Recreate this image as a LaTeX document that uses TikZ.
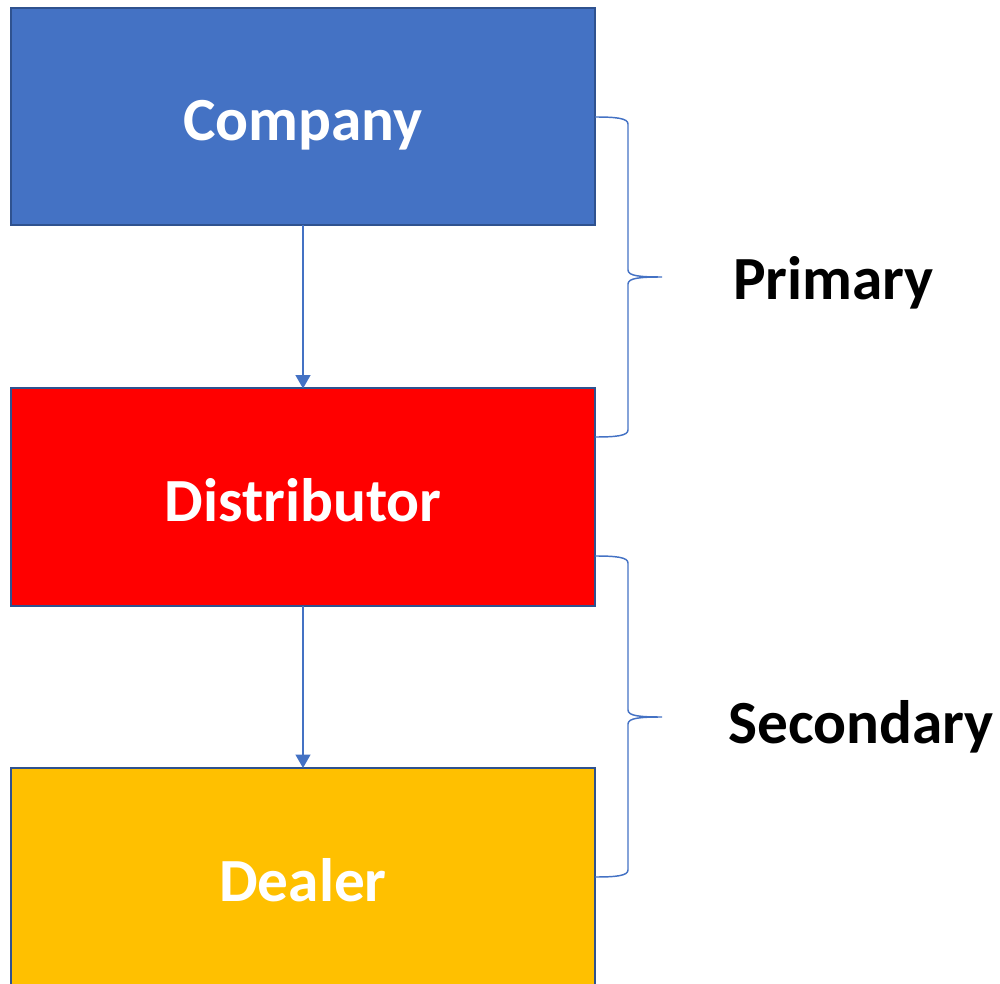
\documentclass[tikz,border=0pt]{standalone}
\usepackage{fontspec}
\setmainfont{Carlito}
\usetikzlibrary{arrows.meta}
\definecolor{cblue}{HTML}{4472C4}
\definecolor{cedge}{HTML}{2F528F}
\definecolor{cred}{HTML}{FF0000}
\definecolor{cgold}{HTML}{FFC000}
\tikzset{
  stage/.style={draw=cedge, line width=1.5pt, minimum width=438pt, minimum height=162.75pt,
    inner sep=0pt, outer sep=0pt, text=white, text height=36.75pt, text depth=0pt,
    font=\fontsize{46}{55}\selectfont\bfseries},
  flow/.style={draw=cblue, line width=1.5pt, -{Triangle[width=11pt,length=10pt]}},
  brace/.style={draw=cblue, line width=1.1pt},
  tag/.style={font=\fontsize{46}{55}\selectfont\bfseries, text=black, inner sep=0pt}
}
\begin{document}
\begin{tikzpicture}[x=0.75pt,y=-0.75pt]
\useasboundingbox (0,0) rectangle (1000,984);
\clip (0,0) rectangle (1000,984);
% three stages of the chain
\node[stage, fill=cblue] (company) at (303,116.5) {Company};
\node[stage, fill=cred] (distributor) at (303,497) {Distributor};
\node[stage, fill=cgold] (dealer) at (303,876.5) {Dealer};
% flow between stages
\draw[flow] (company.south) -- (distributor.north);
\draw[flow] (distributor.south) -- (dealer.north);
% curly braces grouping the channels
\coordinate (b1top) at (595,117);
\coordinate (b1tip) at (662,277);
\coordinate (b1bot) at (595,437);
\draw[brace] (b1top) .. controls (615,117) and (628,118) .. (628,124) -- (628,270)
  .. controls (628,276) and (640,277) .. (b1tip)
  .. controls (640,277) and (628,278) .. (628,284) -- (628,430)
  .. controls (628,436) and (615,437) .. (b1bot);
\coordinate (b2top) at (595,556);
\coordinate (b2tip) at (662,717);
\coordinate (b2bot) at (595,877);
\draw[brace] (b2top) .. controls (615,556) and (628,557) .. (628,563) -- (628,710)
  .. controls (628,716) and (640,717) .. (b2tip)
  .. controls (640,717) and (628,718) .. (628,724) -- (628,870)
  .. controls (628,876) and (615,877) .. (b2bot);
% channel labels
\node[tag, anchor=base west] (primary) at (733,300) {Primary};
\node[tag, anchor=base west] (secondary) at (728,743) {Secondary};
\end{tikzpicture}
\end{document}
